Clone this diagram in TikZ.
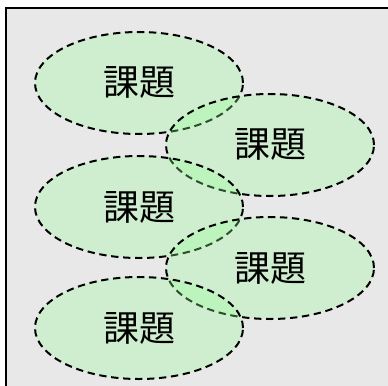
\documentclass[tikz,border=0pt]{standalone}
\usepackage{fontspec}
\newfontfamily\cjk{Noto Sans CJK JP}
\usetikzlibrary{shapes.geometric}
\definecolor{bgray}{RGB}{232,232,232}
\definecolor{egreen}{RGB}{150,255,150}
\tikzset{
  topic/.style={ellipse, draw=black, line width=1.5pt, dash pattern=on 5.5pt off 3.5pt,
    fill=egreen, fill opacity=0.3, text opacity=1, draw opacity=1,
    minimum width=156pt, minimum height=76.5pt, inner sep=0pt,
    font=\cjk\fontsize{27}{32}\selectfont}
}
\begin{document}
\begin{tikzpicture}[x=0.75pt,y=-0.75pt]
\useasboundingbox (0,0) rectangle (388,385);
\begin{scope}
\clip (0,0) rectangle (388,385);
\draw[fill=bgray, draw=black, line width=1.6pt] (6,8) rectangle (400,400);
\end{scope}
\node[topic] (t1) at (139,83) {課題};
\node[topic] (t2) at (270,145) {課題};
\node[topic] (t3) at (139,207) {課題};
\node[topic] (t4) at (270,268) {課題};
\node[topic] (t5) at (139,328) {課題};
\end{tikzpicture}
\end{document}
